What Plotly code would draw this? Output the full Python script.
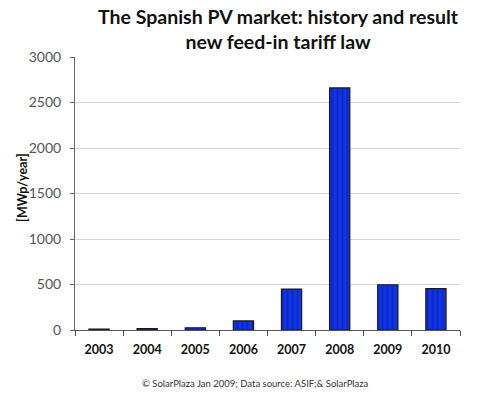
import plotly.graph_objects as go

years = ["2003", "2004", "2005", "2006", "2007", "2008", "2009", "2010"]
mwp = [10, 15, 25, 100, 450, 2660, 497, 455]
y_ticks = [0, 500, 1000, 1500, 2000, 2500, 3000]

title_text = "The Spanish PV market: history and result<br>new feed-in tariff law"
y_title = "[MWp/year]"
footer = "© SolarPlaza Jan 2009; Data source: ASIF;& SolarPlaza"

FONT = "Lato, DejaVu Sans, sans-serif"

fig = go.Figure(
    go.Bar(
        x=years,
        y=mwp,
        width=0.42,
        marker=dict(
            color="#1034e8",
            line=dict(color="#1a1a1a", width=1.2),
            pattern=dict(shape="|", fgcolor="#0a1a9a", bgcolor="#1034e8",
                         size=5, solidity=0.4),
        ),
    )
)

fig.update_layout(
    width=500,
    height=393,
    margin=dict(l=75, r=40, t=57, b=63),
    paper_bgcolor="white",
    plot_bgcolor="white",
    showlegend=False,
    font=dict(family=FONT),
    xaxis=dict(
        type="category",
        showline=True,
        linecolor="#555555",
        linewidth=1,
        ticks="outside",
        tickson="boundaries",
        ticklen=5,
        tickcolor="#555555",
        tickfont=dict(size=12.5, color="#111111", weight="bold"),
        ticklabelstandoff=8,
        showgrid=False,
    ),
    yaxis=dict(
        range=[0, 3000],
        tickvals=y_ticks,
        showline=True,
        linecolor="#666666",
        linewidth=1,
        ticks="outside",
        ticklen=4,
        tickcolor="#666666",
        tickfont=dict(size=14, color="#555555"),
        ticklabelstandoff=6,
        showgrid=True,
        gridcolor="#d4d4d4",
        gridwidth=1,
        zeroline=False,
    ),
    annotations=[
        dict(
            text=title_text,
            xref="paper",
            yref="paper",
            x=0.528,
            y=1,
            xanchor="center",
            yanchor="bottom",
            yshift=2,
            showarrow=False,
            font=dict(size=19.5, color="#111111", weight="bold"),
        ),
        dict(
            text=y_title,
            xref="paper",
            yref="paper",
            x=0,
            xshift=-53,
            y=0.52,
            xanchor="center",
            yanchor="middle",
            textangle=-90,
            showarrow=False,
            font=dict(size=12.5, color="#111111", weight="bold"),
        ),
        dict(
            text=footer,
            xref="paper",
            yref="paper",
            x=0.47,
            y=-0.17,
            xanchor="center",
            yanchor="top",
            showarrow=False,
            font=dict(size=9.5, color="#333333"),
        ),
    ],
)

fig.write_html("out.html", config={"displayModeBar": False},
               post_script="document.body.style.margin='0';")
